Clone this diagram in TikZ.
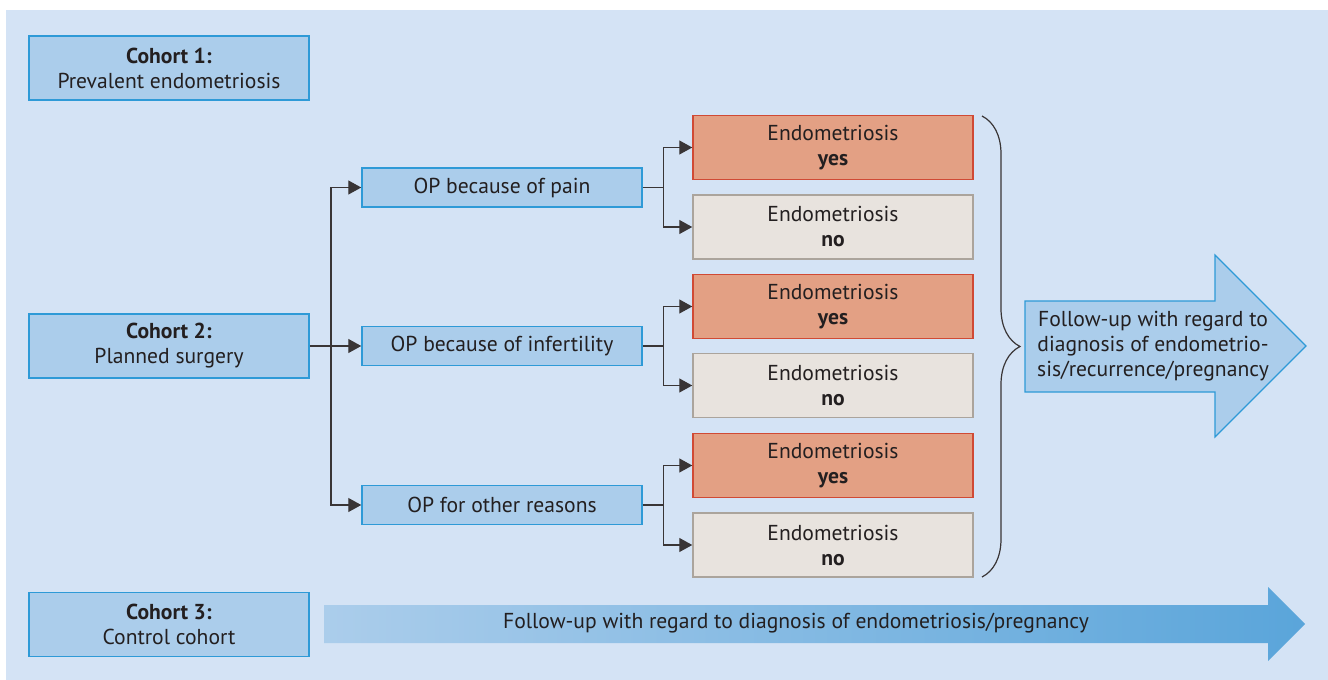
\documentclass[tikz,border=0pt]{standalone}
\usepackage{fontspec}
\setmainfont{PT Sans}
\usetikzlibrary{arrows.meta,decorations.pathreplacing}

\definecolor{bgblue}{HTML}{D4E3F5}
\definecolor{boxblue}{HTML}{ABCDEB}
\definecolor{lineblue}{HTML}{2E9AD7}
\definecolor{yesfill}{HTML}{E3A084}
\definecolor{yesline}{HTML}{D04A35}
\definecolor{nofill}{HTML}{E8E3DE}
\definecolor{noline}{HTML}{ABA49C}
\definecolor{arrowdark}{HTML}{5AA5DA}
\definecolor{txt}{HTML}{231F20}

\begin{document}
\begin{tikzpicture}[x=0.5pt,y=-0.5pt]
	\tikzstyle{cohort} = [draw=lineblue,fill=boxblue,line width=0.75pt,minimum width=140pt,minimum height=32pt,align=center,text=txt,inner sep=0pt,font=\fontsize{10.8}{12.5}\selectfont]
	\tikzstyle{opbox} = [cohort,minimum height=19.5pt]
	\tikzstyle{yesbox} = [cohort,draw=yesline,fill=yesfill]
	\tikzstyle{nobox} = [cohort,draw=noline,fill=nofill]
	\tikzstyle{arr} = [-{Triangle[length=6.5pt,width=7pt]},line width=0.65pt,draw=txt!90]
	\tikzstyle{futext} = [align=center,text=txt,inner sep=0pt,font=\fontsize{10.8}{12.5}\selectfont]

	\def\colx{833}

	% BACKGROUND %
	\useasboundingbox (0,0) rectangle (1328,680);
	\fill[bgblue] (6,10) rectangle (1328,680);

	% NODES %
	\node[cohort] (c1) at (169,68) {\textbf{Cohort 1:}\\Prevalent endometriosis};
	\node[cohort] (c2) at (169,346) {\textbf{Cohort 2:}\\Planned surgery};
	\node[cohort] (c3) at (169,624.5) {\textbf{Cohort 3:}\\Control cohort};

	\node[opbox] (oppain) at (502,187.5) {OP because of pain};
	\node[opbox] (opinf) at (502,346) {OP because of infertility};
	\node[opbox] (opother) at (502,505) {OP for other reasons};

	\node[yesbox] (yes1) at (\colx,147.5) {Endometriosis\\\textbf{yes}};
	\node[nobox] (no1) at (\colx,227) {Endometriosis\\\textbf{no}};
	\node[yesbox] (yes2) at (\colx,306.5) {Endometriosis\\\textbf{yes}};
	\node[nobox] (no2) at (\colx,385.5) {Endometriosis\\\textbf{no}};
	\node[yesbox] (yes3) at (\colx,465.5) {Endometriosis\\\textbf{yes}};
	\node[nobox] (no3) at (\colx,545) {Endometriosis\\\textbf{no}};

	% EDGES %
	\coordinate (split) at (331,346);
	\draw[arr] (c2.east) -- (opinf.west);
	\draw[arr] (split) |- (oppain.west);
	\draw[arr] (split) |- (opother.west);
	%pain
	\draw[arr] (oppain.east) -- ++(21,0) |- (yes1.west);
	\draw[arr] (oppain.east) -- ++(21,0) |- (no1.west);
	%infertility
	\draw[arr] (opinf.east) -- ++(21,0) |- (yes2.west);
	\draw[arr] (opinf.east) -- ++(21,0) |- (no2.west);
	%other
	\draw[arr] (opother.east) -- ++(21,0) |- (yes3.west);
	\draw[arr] (opother.east) -- ++(21,0) |- (no3.west);

	% BRACE %
	\coordinate (bt) at (982,116);
	\coordinate (bb) at (982,577);
	\draw[decorate,decoration={brace,amplitude=19pt},line width=0.6pt,draw=txt!90] (bt) -- (bb);

	% FOLLOW-UP ARROWS %
	\draw[draw=lineblue,fill=boxblue,line width=0.6pt] (1025,301) -- (1215,301) -- (1215,255) -- (1306,346) -- (1215,437) -- (1215,392) -- (1025,392) -- cycle;
	\node[futext] (fu1) at (1153,346) {Follow-up with regard to\\diagnosis of endometrio-\\sis/recurrence/pregnancy};

	\shade[left color=boxblue,right color=arrowdark] (324,605) -- (1268,605) -- (1268,587) -- (1305,624) -- (1268,661) -- (1268,643) -- (324,643) -- cycle;
	\node[futext] (fu2) at (796,623) {Follow-up with regard to diagnosis of endometriosis/pregnancy};
\end{tikzpicture}
\end{document}
